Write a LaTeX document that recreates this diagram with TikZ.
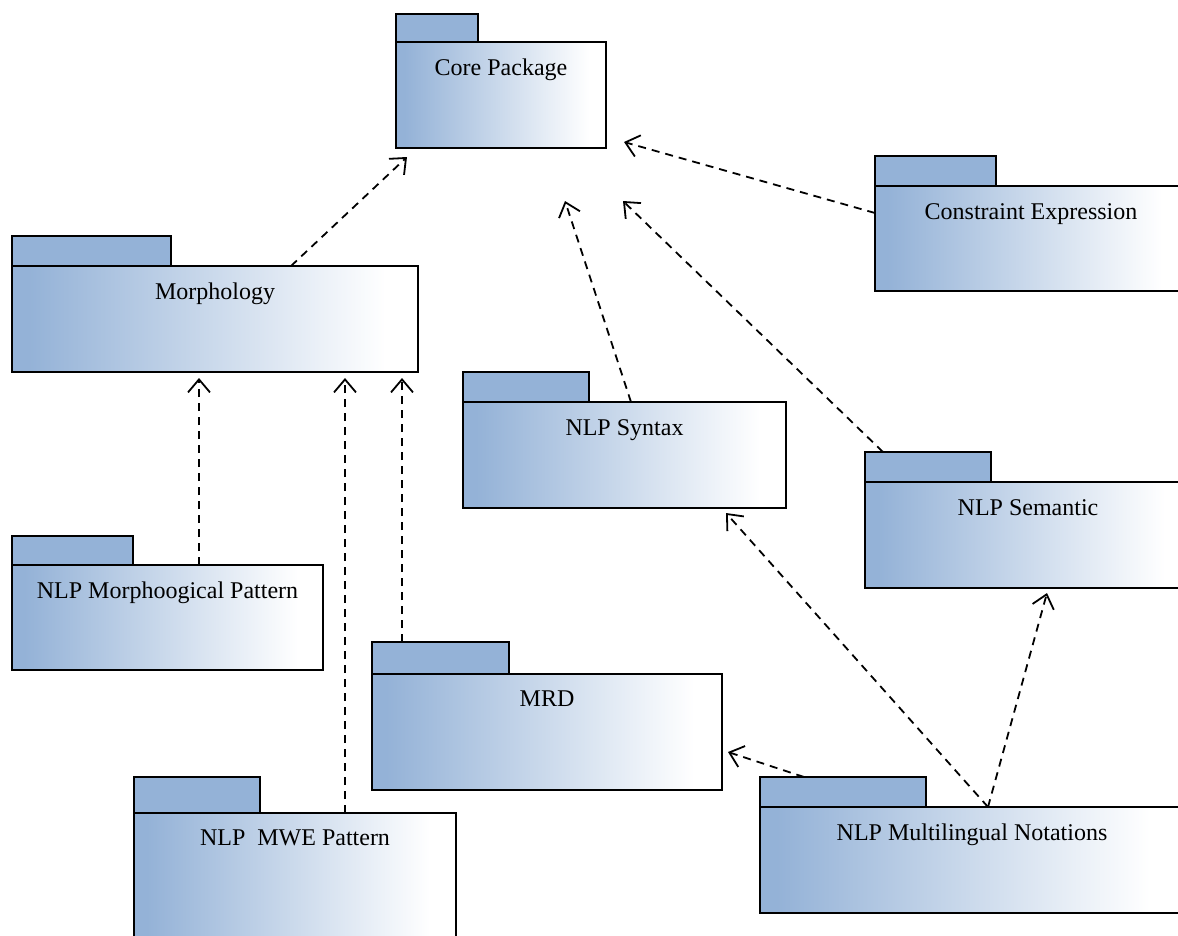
\documentclass[tikz,border=0pt]{standalone}
\usepackage{fontspec}
\setmainfont{Liberation Serif}
\usetikzlibrary{arrows.meta,calc}

\definecolor{pkgblue}{RGB}{148,178,215}
% body fill: steel blue on the left fading to white towards the right
\pgfdeclarehorizontalshading{pkgshade}{100bp}{%
  color(0bp)=(pkgblue); color(27bp)=(pkgblue);
  color(47bp)=(pkgblue!55!white);
  color(71bp)=(white); color(100bp)=(white)}

\tikzset{
  pkgtab/.style={draw=black, line width=1.9pt, fill=pkgblue,
    inner sep=0pt, outer sep=0pt, anchor=north west},
  pkgbody/.style={draw=black, line width=1.9pt, shading=pkgshade,
    shading angle=0, inner sep=0pt, outer sep=0pt, anchor=north west},
  pkglabel/.style={font=\fontsize{24}{28}\selectfont, inner sep=0pt,
    anchor=north, text=black},
  dep/.style={line width=1.8pt, dash pattern=on 8pt off 6pt,
    -{Straight Barb[length=13pt,width=22pt,line width=1.8pt]}},
}

% \umlpackage{name}{tab left}{tab top}{tab right}{body top}{body right}{body bottom}{title}
\newcommand{\umlpackage}[8]{%
  \node[pkgtab, minimum width={#4-#2}, minimum height={#5-#3}] (#1-tab) at (#2,#3) {};
  \node[pkgbody, minimum width={#6-#2}, minimum height={#7-#5}] (#1) at (#2,#5) {};
  \node[pkglabel] (#1-title) at ([yshift=-17pt]#1.north) {#8};
}

\begin{document}
\begin{tikzpicture}[x=1pt,y=-1pt]
  \fill[white] (0,0) rectangle (1178,935);
  \path[use as bounding box, clip] (0,0) rectangle (1178,935);

  % packages
  \umlpackage{core}{396}{14}{478}{42}{606}{148}{Core Package}
  \umlpackage{constraint}{875}{156}{996}{186}{1187}{291}{Constraint Expression}
  \umlpackage{morph}{12}{236}{171}{266}{418}{372}{Morphology}
  \umlpackage{syntax}{463}{372}{589}{402}{786}{508}{NLP Syntax}
  \umlpackage{semantic}{865}{452}{991}{482}{1191}{588}{NLP Semantic}
  \umlpackage{mpat}{12}{536}{133}{565}{323}{670}{NLP Morphoogical Pattern}
  \umlpackage{mrd}{372}{642}{509}{674}{722}{790}{MRD}
  \umlpackage{mwe}{134}{777}{260}{813}{456}{945}{NLP~~MWE Pattern}
  \umlpackage{multi}{760}{777}{926}{807}{1184}{913}{NLP Multilingual Notations}

  % dependencies on the core package
  \draw[dep] ($(morph.north west)+(279,0)$) -- ($(core.south west)+(11,9)$);
  \draw[dep] ($(constraint.north west)+(0,27)$) -- ($(core.south east)+(18,-6)$);
  \draw[dep] ($(syntax.north west)+(168,0)$) -- ($(core.south west)+(169,53)$);
  \draw[dep] ($(semantic-tab.north west)+(18,0)$) -- ($(core.south east)+(17,53)$);

  % dependencies on morphology
  \draw[dep] ($(mpat.north west)+(187,0)$) -- ($(morph.south west)+(187,6)$);
  \draw[dep] ($(mwe.north west)+(211,0)$) -- ($(morph.south west)+(333,6)$);
  \draw[dep] ($(mrd-tab.north west)+(30,0)$) -- ($(morph.south west)+(390,6)$);

  % dependencies of the multilingual notations
  \draw[dep] ($(multi.north west)+(228,0)$) -- ($(syntax.south west)+(263,5)$);
  \draw[dep] ($(multi.north west)+(228,0)$) -- ($(semantic.south west)+(182,5)$);
  \draw[dep] ($(multi-tab.north west)+(44,0)$) -- ($(mrd.south east)+(6,-38)$);
\end{tikzpicture}
\end{document}
